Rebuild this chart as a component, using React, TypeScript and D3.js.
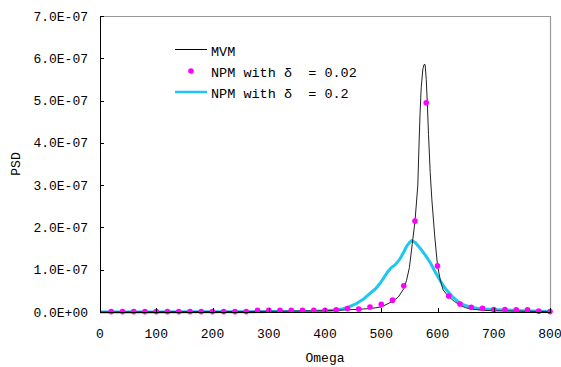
import React from "react";
import * as d3 from "d3";

const W = 561;
const H = 367;

const xTicks = [0, 100, 200, 300, 400, 500, 600, 700, 800];
const yTicks = [0, 1e-7, 2e-7, 3e-7, 4e-7, 5e-7, 6e-7, 7e-7];
const yTickLabels = ["0.0E+00", "1.0E-07", "2.0E-07", "3.0E-07", "4.0E-07", "5.0E-07", "6.0E-07", "7.0E-07"];

// MVM (black line), values in units of 1e-7
const mvmOmega = [0, 100, 200, 300, 400, 440, 480, 500, 520, 530, 540, 545, 550, 555, 560, 565, 567, 569, 571, 574, 576, 578, 580, 582, 584, 587, 590, 595, 600, 605, 610, 620, 630, 640, 650, 660, 680, 700, 750, 800];
const mvmPsd = [0, 0.005, 0.01, 0.015, 0.03, 0.05, 0.08, 0.12, 0.25, 0.35, 0.55, 0.75, 1.05, 1.6, 2.15, 3.0, 3.9, 4.7, 5.3, 5.75, 5.85, 5.85, 5.5, 4.9, 4.2, 3.3, 2.65, 1.8, 1.1, 0.75, 0.52, 0.36, 0.25, 0.16, 0.1, 0.07, 0.04, 0.03, 0.02, 0.01];

// NPM with delta = 0.02 (magenta points)
const npm002Omega = [20, 40, 60, 80, 100, 120, 140, 160, 180, 200, 220, 240, 260, 280, 300, 320, 340, 360, 380, 400, 420, 440, 460, 480, 500, 520, 540, 560, 580, 600, 620, 640, 660, 680, 700, 720, 740, 760, 780, 800];
const npm002Psd = [0.01, 0.01, 0.01, 0.01, 0.01, 0.01, 0.01, 0.01, 0.01, 0.01, 0.01, 0.01, 0.01, 0.04, 0.04, 0.04, 0.04, 0.04, 0.04, 0.04, 0.05, 0.08, 0.07, 0.12, 0.18, 0.28, 0.62, 2.15, 4.95, 1.09, 0.38, 0.19, 0.11, 0.09, 0.06, 0.06, 0.05, 0.05, 0.02, 0.01];

// NPM with delta = 0.2 (cyan line)
const npm02Omega = [0, 100, 200, 300, 380, 400, 420, 432, 440, 456, 470, 480, 490, 498, 505, 512, 518, 525, 533, 540, 545, 550, 554, 560, 569, 578, 587, 595, 601, 608, 616, 626, 637, 648, 658, 670, 685, 700, 750, 800];
const npm02Psd = [0, 0, 0.005, 0.01, 0.02, 0.03, 0.05, 0.08, 0.11, 0.2, 0.32, 0.44, 0.55, 0.68, 0.82, 0.96, 1.05, 1.12, 1.25, 1.42, 1.55, 1.64, 1.69, 1.65, 1.51, 1.35, 1.17, 0.97, 0.83, 0.67, 0.52, 0.37, 0.24, 0.16, 0.12, 0.09, 0.07, 0.06, 0.03, 0.01];

const legendLabels = ["MVM", "NPM with \u03b4  = 0.02", "NPM with \u03b4  = 0.2"];

const FONT = "'Liberation Mono', 'DejaVu Sans Mono', monospace";

export default function App() {
  const left = 100, right = 550, top = 16, bottom = 312;
  const x = d3.scaleLinear().domain([0, 800]).range([left, right]);
  const y = d3.scaleLinear().domain([0, 7e-7]).range([bottom, top]);

  const line = d3
    .line<[number, number]>()
    .x((d) => x(d[0]))
    .y((d) => y(d[1] * 1e-7));

  const mvm = mvmOmega.map((o, i) => [o, mvmPsd[i]] as [number, number]);
  const npm02 = npm02Omega.map((o, i) => [o, npm02Psd[i]] as [number, number]);
  const npm002 = npm002Omega.map((o, i) => [o, npm002Psd[i]] as [number, number]);

  return (
    <svg width={W} height={H} style={{ position: "absolute", left: 0, top: 0, background: "#fff" }}>
      <rect x={0} y={0} width={W} height={H} fill="#fff" />
      {/* plot frame */}
      <line x1={left} x2={right} y1={top + 0.5} y2={top + 0.5} stroke="#999" strokeWidth={1.2} />
      <line x1={right + 0.5} x2={right + 0.5} y1={top} y2={bottom} stroke="#999" strokeWidth={1.2} />

      {/* series */}
      <path d={line(npm02) || ""} fill="none" stroke="#1EC6F0" strokeWidth={3} strokeLinejoin="round" />
      <path d={line(mvm) || ""} fill="none" stroke="#222" strokeWidth={1} />
      {npm002.map((d, i) => (
        <circle key={i} cx={x(d[0])} cy={y(d[1] * 1e-7)} r={2.8} fill="#FF00FF" />
      ))}

      {/* axes */}
      <line x1={left + 0.5} x2={left + 0.5} y1={top} y2={bottom + 0.5} stroke="#000" strokeWidth={1} />
      <line x1={left} x2={right + 1} y1={bottom + 0.5} y2={bottom + 0.5} stroke="#000" strokeWidth={1} />
      {yTicks.map((t, i) => (
        <g key={i}>
          <line x1={left} x2={left + 4} y1={Math.round(y(t)) + 0.5} y2={Math.round(y(t)) + 0.5} stroke="#000" />
          <text
            x={88}
            y={y(t)}
            dy="0.35em"
            textAnchor="end"
            fontFamily={FONT}
            fontSize={13}
            fill="#000"
          >
            {yTickLabels[i]}
          </text>
        </g>
      ))}
      {xTicks.map((t, i) => (
        <g key={i}>
          <line x1={Math.round(x(t)) + 0.5} x2={Math.round(x(t)) + 0.5} y1={bottom} y2={bottom - 4} stroke="#000" />
          <text x={x(t)} y={333} dy="0.35em" textAnchor="middle" fontFamily={FONT} fontSize={13} fill="#000">
            {t}
          </text>
        </g>
      ))}

      <text x={(left + right) / 2} y={357} dy="0.35em" textAnchor="middle" fontFamily={FONT} fontSize={13} fill="#000">
        Omega
      </text>
      <text
        transform={`translate(15,${(top + bottom) / 2}) rotate(-90)`}
        dy="0.35em"
        textAnchor="middle"
        fontFamily={FONT}
        fontSize={13}
        fill="#000"
      >
        PSD
      </text>

      {/* legend */}
      <line x1={175} x2={207} y1={49.5} y2={49.5} stroke="#000" strokeWidth={1} />
      <text x={211} y={51} dy="0.35em" fontFamily={FONT} fontSize={13.5} fill="#000">
        {legendLabels[0]}
      </text>
      <circle cx={191} cy={71} r={2.8} fill="#FF00FF" />
      <text x={211} y={72} dy="0.35em" fontFamily={FONT} fontSize={13.5} fill="#000" xmlSpace="preserve" style={{ whiteSpace: "pre" }}>
        {legendLabels[1]}
      </text>
      <line x1={175} x2={207} y1={92} y2={92} stroke="#1EC6F0" strokeWidth={2.5} />
      <text x={211} y={93} dy="0.35em" fontFamily={FONT} fontSize={13.5} fill="#000" xmlSpace="preserve" style={{ whiteSpace: "pre" }}>
        {legendLabels[2]}
      </text>
    </svg>
  );
}
